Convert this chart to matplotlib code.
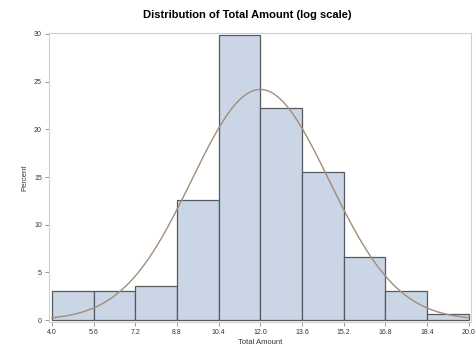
import numpy as np
import matplotlib
matplotlib.use('Agg')
from matplotlib import pyplot as plt

plt.rcParams['font.family'] = ['Liberation Sans', 'DejaVu Sans']

# bins of the log-scaled total amount and percent per bin
bin_edges = [4.0, 5.6, 7.2, 8.8, 10.4, 12.0, 13.6, 15.2, 16.8, 18.4, 20.0]
percents = [3.0, 3.0, 3.6, 12.6, 29.9, 22.2, 15.5, 6.6, 3.0, 0.6]
# fitted normal curve parameters
mu, sigma = 12.0, 2.64

fig = plt.figure(figsize=(4.75, 3.47), dpi=100)
ax = fig.add_axes([0.103, 0.072, 0.889, 0.833])

widths = np.diff(bin_edges)
ax.bar(bin_edges[:-1], percents, width=widths, align='edge',
       color='#cad5e5', edgecolor='#555a60', linewidth=0.9)

xs = np.linspace(4.0, 20.0, 300)
binw = widths[0]
dens = 100 * binw / (sigma * np.sqrt(2 * np.pi)) * np.exp(-0.5 * ((xs - mu) / sigma) ** 2)
ax.plot(xs, dens, color='#a38d78', linewidth=1.0)

ax.set_xlim(3.88, 20.1)
ax.set_ylim(-0.2, 30.1)
ax.set_xticks(bin_edges)
ax.set_xticklabels(['%.1f' % v for v in bin_edges])
ax.set_yticks([0, 5, 10, 15, 20, 25, 30])

for s in ax.spines.values():
    s.set_color('#d0d0d0')
    s.set_linewidth(0.8)
ax.tick_params(colors='#888888', labelcolor='#333333', labelsize=5, length=3, width=0.6, pad=2)

ax.set_xlabel('Total Amount', fontsize=5.5, color='#333333', labelpad=2)
ax.set_ylabel('Percent', fontsize=5.5, color='#333333', labelpad=4)
fig.suptitle('Distribution of Total Amount (log scale)', x=0.52, y=0.972,
             fontsize=8, fontweight='bold')

plt.savefig('out.png', dpi=100)
